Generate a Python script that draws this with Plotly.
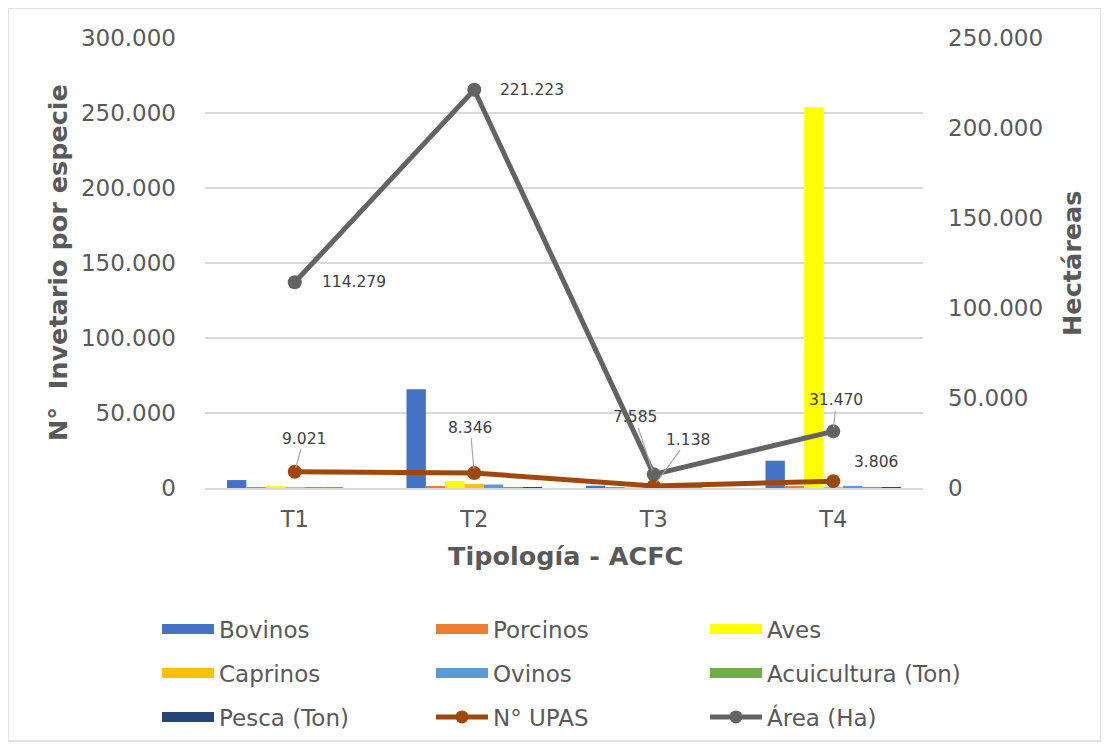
import plotly.graph_objects as go

categorias = ["T1", "T2", "T3", "T4"]

bovinos = [5300, 65800, 1500, 18200]
porcinos = [200, 1200, 200, 800]
aves = [800, 4700, 300, 253800]
caprinos = [100, 2600, 100, 500]
ovinos = [150, 2300, 200, 1100]
acuicultura = [50, 100, 50, 100]
pesca = [0, 50, 0, 50]

upas = [9021, 8346, 1138, 3806]
area_ha = [114279, 221223, 7585, 31470]

FONT = "DejaVu Sans"
GRIS = "#595959"
W, H = 1109, 749
OFF = 8  # margen del <body> de la página

barras = [
    ("Bovinos", bovinos, "#4472C4"),
    ("Porcinos", porcinos, "#ED7D31"),
    ("Aves", aves, "#FFFF00"),
    ("Caprinos", caprinos, "#FFC000"),
    ("Ovinos", ovinos, "#5B9BD5"),
    ("Acuicultura (Ton)", acuicultura, "#70AD47"),
    ("Pesca (Ton)", pesca, "#264478"),
]

# posición de cada entrada de leyenda (px en pantalla)
leyenda_x = [157, 431, 705]
leyenda_y = [629, 673, 717]

fig = go.Figure()
for nombre, vals, color in barras:
    fig.add_trace(go.Bar(x=categorias, y=vals, name=nombre, marker_color=color,
                         marker_line_width=0, showlegend=False))

fig.add_trace(go.Scatter(x=categorias, y=area_ha, name="Área (Ha)", yaxis="y2",
                         mode="lines+markers", line=dict(color="#636363", width=5),
                         marker=dict(size=14, color="#636363"), showlegend=False))
fig.add_trace(go.Scatter(x=categorias, y=upas, name="N° UPAS", yaxis="y2",
                         mode="lines+markers", line=dict(color="#9E480E", width=5),
                         marker=dict(size=14, color="#9E480E"), showlegend=False))

# entradas de leyenda (rectángulos anchos al estilo Excel)
entradas = [(n, dict(mode="lines", line=dict(color=c, width=13))) for n, _, c in barras]
entradas.append(("N° UPAS", dict(mode="lines+markers", line=dict(color="#9E480E", width=5),
                                 marker=dict(size=13, color="#9E480E"))))
entradas.append(("Área (Ha)", dict(mode="lines+markers", line=dict(color="#636363", width=5),
                                   marker=dict(size=13, color="#636363"))))

leg_layout = {}
for i, (nombre, estilo) in enumerate(entradas):
    key = "legend" if i == 0 else f"legend{i + 1}"
    fig.add_trace(go.Scatter(x=[None], y=[None], name=nombre, legend=key,
                             showlegend=True, hoverinfo="skip", **estilo))
    px_x = leyenda_x[i % 3] - OFF
    px_y = leyenda_y[i // 3] - OFF
    leg_layout[key] = dict(
        xref="container", yref="container", x=px_x / W, y=1 - px_y / H,
        xanchor="left", yanchor="middle", orientation="h", itemwidth=52,
        bgcolor="rgba(0,0,0,0)", borderwidth=0,
        font=dict(family=FONT, size=23, color=GRIS),
    )


def fmt(v):
    return f"{v:,}".replace(",", ".")


# etiquetas de datos: (dx, dy, con_linea_guía)
pos_area = [(25, 0, False), (24, 0, False), (-19, -57, True), (3, -31, True)]
pos_upas = [(9, -33, True), (-4, -45, True), (34, -46, True), (19, 19, False)]

for serie, posiciones in ((area_ha, pos_area), (upas, pos_upas)):
    for cat, v, (dx, dy, guia) in zip(categorias, serie, posiciones):
        if guia:
            fig.add_annotation(x=cat, y=v, yref="y2", text=fmt(v), showarrow=True,
                               arrowhead=0, arrowwidth=1.2, arrowcolor="#A6A6A6",
                               ax=dx, ay=dy, standoff=4,
                               font=dict(family=FONT, size=15.5, color="#404040"))
        else:
            fig.add_annotation(x=cat, y=v, yref="y2", text=fmt(v), showarrow=False,
                               xanchor="left", yanchor="middle", xshift=dx, yshift=dy,
                               font=dict(family=FONT, size=15.5, color="#404040"))

# títulos de ejes
titulo = dict(family=FONT, size=25.5, color=GRIS)
for x, y, ang, txt in ((-0.2047, 0.5, -90, "<b>N°  Invetario por especie</b>"),
                       (1.2075, 0.5, -90, "<b>Hectáreas</b>"),
                       (0.5014, -0.151, 0, "<b>Tipología - ACFC</b>")):
    fig.add_annotation(xref="paper", yref="paper", x=x, y=y, textangle=ang,
                       xanchor="center", yanchor="middle", text=txt,
                       showarrow=False, font=titulo)

# borde del gráfico
fig.add_shape(type="rect", xref="paper", yref="paper", x0=-0.2744, x1=1.2479,
              y0=-0.5622, y1=1.0667, line=dict(color="#D9D9D9", width=1.5))

fig.update_layout(
    width=W, height=H,
    margin=dict(l=205 - OFF, r=W - 923 + OFF, t=38 - OFF, b=H - 488 + OFF),
    paper_bgcolor="white", plot_bgcolor="white",
    separators=",.",
    barmode="group", bargap=0.245, bargroupgap=0,
    font=dict(family=FONT, color=GRIS),
    xaxis=dict(
        tickfont=dict(size=22.5, color=GRIS), showline=True, linecolor="#D9D9D9",
        linewidth=1.5, ticks="outside", ticklen=0, ticklabelstandoff=10,
        automargin=False,
    ),
    yaxis=dict(
        range=[0, 300000], dtick=50000, tickformat=",d",
        tickfont=dict(size=23, color=GRIS), gridcolor="#D9D9D9", gridwidth=1.5,
        zeroline=False, ticklabelstandoff=28, automargin=False,
    ),
    yaxis2=dict(
        overlaying="y", side="right", range=[0, 250000], dtick=50000,
        tickformat=",d", tickfont=dict(size=23, color=GRIS), showgrid=False,
        zeroline=False, ticklabelstandoff=24, automargin=False,
    ),
    **leg_layout,
)

fig.write_html("out.html")
